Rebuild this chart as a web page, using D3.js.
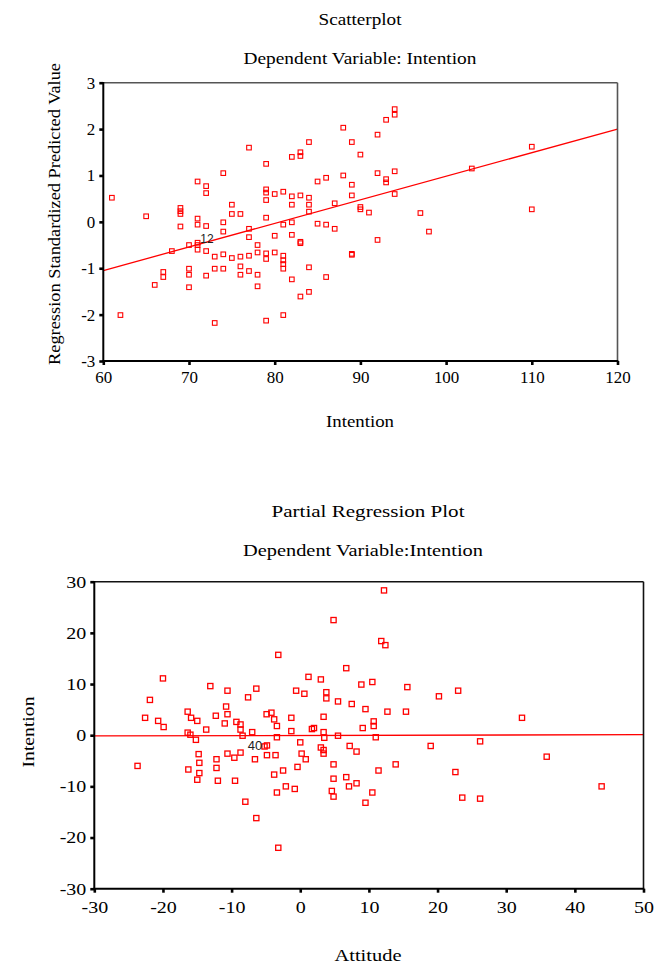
<!DOCTYPE html>
<html><head><meta charset="utf-8">
<script src="https://cdn.jsdelivr.net/npm/d3@7"></script>
<style>body{margin:0;background:#fff}</style>
</head><body>
<svg id="c" width="656" height="967"></svg>
<script>
// ---------- DATA: Scatterplot (Intention vs Regression Standardized Predicted Value)
const topX = [61,62,65,66,67,67,68,69,69,69,69,70,70,70,70,71,71,71,71,71,71,72,72,72,72,72,73,73,73,74,74,74,74,74,75,75,75,76,76,76,76,77,77,77,77,77,78,78,78,78,79,79,79,79,79,79,79,79,80,80,80,81,81,81,81,81,81,81,82,82,82,82,82,82,83,83,83,83,83,83,84,84,84,84,84,84,85,85,86,86,86,87,87,88,88,89,89,89,89,89,90,90,90,91,92,92,92,93,93,93,94,94,94,94,97,98,103,110,110];
const topY = [0.52,-2.01,0.12,-1.36,-1.08,-1.19,-0.63,0.30,0.23,0.17,-0.10,-0.50,-1.01,-1.14,-1.41,0.87,0.07,-0.06,-0.45,-0.50,-0.60,0.77,0.62,-0.09,-0.63,-1.16,-0.75,-1.01,-2.18,1.05,-0.01,-0.21,-0.70,-1.01,0.37,0.17,-0.78,0.17,-0.75,-0.96,-1.14,1.60,-0.15,-0.33,-0.73,-1.06,-0.50,-0.66,-1.14,-1.39,1.25,0.70,0.63,0.47,0.09,-0.68,-0.80,-2.13,0.60,-0.30,-0.66,0.65,-0.06,-0.73,-0.83,-0.91,-1.01,-2.01,1.40,0.55,0.37,-0.01,-0.28,-1.24,1.50,1.42,0.57,-0.43,-0.46,-1.61,1.72,0.52,0.37,0.22,-0.98,-1.51,0.87,-0.04,0.95,-0.06,-1.19,0.40,-0.15,2.03,1.00,1.72,0.80,0.57,-0.69,-0.71,1.45,0.32,0.27,0.20,1.88,1.05,-0.39,2.20,0.92,0.85,2.43,2.31,1.09,0.60,0.19,-0.21,1.15,1.62,0.27];
const topFit = [[60, -1.05], [120, 2.0]];
const topXTicks = [60,70,80,90,100,110,120];
const topYTicks = [-3,-2,-1,0,1,2,3];
const topCaseLabel = {x: 72.1, y: -0.36, text: "12"};

// ---------- DATA: Partial Regression Plot (Attitude vs Intention)
const botX = [-20.0,-21.9,-22.6,-20.7,-19.9,-23.7,-16.4,-15.9,-15.0,-16.4,-16.0,-15.2,-14.8,-14.7,-16.3,-14.7,-15.0,
 -13.1,-10.6,-6.4,-7.6,-3.2,4.85,6.7,1.2,3.0,-0.6,0.6,3.8,3.8,5.5,7.5,-10.8,-10.6,-12.3,-13.7,-11.0,-9.3,-8.7,-8.7,-8.4,-7.0,
 -4.9,-4.2,-3.8,-3.4,-3.4,-1.3,-1.3,-4.85,-5.2,0.0,2.0,1.7,3.4,3.5,5.5,7.2,-12.2,-12.2,-12.0,-10.6,-9.6,-8.7,-9.5,-6.6,
 -4.85,-3.6,-3.8,-2.5,-3.4,-2.1,-0.8,-0.4,0.2,0.8,-8.0,-6.4,-3.2,3.0,3.4,3.4,4.85,4.85,4.6,4.85,6.7,7.1,3.4,
 12.2,11.8,12.4,8.9,10.5,15.6,20.2,23.0,9.5,12.7,15.4,10.7,10.7,9.1,11.0,8.2,19.0,26.2,13.9,11.4,22.6,8.2,10.5,9.5,23.6,26.2,
 32.3,35.9,43.9];
const botY = [11.1,6.9,3.4,2.8,1.6,-6.0,4.6,3.4,2.8,0.5,0.1,-0.9,-3.7,-5.4,-6.7,-7.4,-8.7,
 9.6,8.7,9.1,7.4,15.7,22.5,13.1,11.4,10.9,8.7,8.1,8.4,7.2,6.6,6.1,5.6,4.1,3.8,1.1,2.3,2.6,2.1,1.1,-0.1,0.6,
 4.1,4.4,3.1,1.8,-0.4,3.4,0.8,-2.0,-2.2,-1.4,1.4,1.2,0.6,-0.5,-0.1,-2.1,-4.7,-6.4,-8.9,-3.6,-4.4,-3.4,-8.9,-4.7,
 -3.9,-3.9,-7.7,-6.9,-11.2,-10.0,-10.5,-6.2,-3.6,-4.7,-13.0,-16.2,-22.0,-2.4,-2.9,-3.6,-5.7,-8.5,-10.9,-12.0,-8.2,-10.0,3.6,
 28.3,18.4,17.6,9.9,10.4,9.4,7.6,8.7,5.1,4.6,4.6,2.7,1.8,1.4,-0.4,-3.2,-2.1,-1.2,-5.7,-6.9,-7.2,-9.4,-11.2,-13.2,-12.2,-12.4,
 3.4,-4.2,-10.0];
const botFit = [[-30, -0.15], [50, 0.1]];
const botXTicks = [-30,-20,-10,0,10,20,30,40,50];
const botYTicks = [-30,-20,-10,0,10,20,30];
const botCaseLabel = {x: -6.6, y: -1.95, text: "40"};

// ---------- DRAWING
const svg = d3.select("#c");
svg.append("rect").attr("width",656).attr("height",967).attr("fill","#fff");
const SERIF = "'Liberation Serif','Times New Roman',serif";
const SANS = "'Liberation Sans',Arial,sans-serif";

function label(str, tx, ty, o) {
  const t = svg.append("text")
    .attr("transform", `translate(${tx},${ty})` + (o.rotate ? " rotate(-90)" : ""))
    .attr("text-anchor", "middle")
    .style("font-family", SERIF).style("font-size", o.size + "px").attr("fill", "#000")
    .text(str);
  if (o.len) t.attr("textLength", o.len).attr("lengthAdjust", "spacingAndGlyphs");
  return t;
}

function panel(c) {
  const x = d3.scaleLinear().domain(c.xDomain).range([c.left, c.right]);
  const y = d3.scaleLinear().domain(c.yDomain).range([c.bottom, c.top]);
  const g = svg.append("g");

  // axes (tick marks + labels)
  const ax = g.append("g").attr("transform", `translate(0,${c.bottom})`)
    .call(d3.axisBottom(x).tickValues(c.xTicks).tickSize(4).tickSizeOuter(0).tickFormat(d => String(d)));
  const ay = g.append("g").attr("transform", `translate(${c.left},0)`)
    .call(d3.axisLeft(y).tickValues(c.yTicks).tickSize(4).tickSizeOuter(0).tickFormat(d => String(d)));
  [ax, ay].forEach(a => {
    a.select(".domain").remove();
    a.selectAll(".tick line").attr("stroke", "#000").attr("stroke-width", 2.6);
    a.selectAll(".tick text").attr("fill", "#000")
      .style("font-family", SERIF).style("font-size", c.tickSize + "px");
  });
  ax.selectAll(".tick text").attr("y", null).attr("dy", null)
    .attr("text-anchor", "middle")
    .attr("transform", `translate(0,${c.xTickBase}) scale(${c.sx},1)`);
  ay.selectAll(".tick text").attr("x", null).attr("dy", "0.34em")
    .attr("text-anchor", "end")
    .attr("transform", `translate(-8,0) scale(${c.sx},1)`);

  // clip
  const id = "clip" + c.id;
  svg.append("clipPath").attr("id", id).append("rect")
    .attr("x", c.left).attr("y", c.top).attr("width", c.right - c.left).attr("height", c.bottom - c.top);

  // fit line
  g.append("line").attr("clip-path", `url(#${id})`)
    .attr("x1", x(c.fit[0][0])).attr("y1", y(c.fit[0][1]))
    .attr("x2", x(c.fit[1][0])).attr("y2", y(c.fit[1][1]))
    .attr("stroke", "#ff0000").attr("stroke-width", 1.3);

  // points
  g.append("g").selectAll("rect").data(d3.zip(c.xs, c.ys)).join("rect")
    .attr("x", d => x(d[0]) - c.ms / 2).attr("y", d => y(d[1]) - c.ms / 2)
    .attr("width", c.ms).attr("height", c.ms)
    .attr("fill", "none").attr("stroke", "#ff0000").attr("stroke-width", c.msw);

  // case label
  g.append("text").attr("x", x(c.caseLabel.x)).attr("y", y(c.caseLabel.y))
    .attr("text-anchor", "middle").attr("dy", "0.35em")
    .style("font-family", SANS).style("font-size", c.caseSize + "px").attr("fill", "#222")
    .text(c.caseLabel.text);

  // frame
  g.append("line").attr("x1", c.left).attr("x2", c.right).attr("y1", c.top).attr("y2", c.top)
    .attr("stroke", c.frameTop).attr("stroke-width", 1.6);
  g.append("line").attr("x1", c.right).attr("x2", c.right).attr("y1", c.top).attr("y2", c.bottom)
    .attr("stroke", c.frameTop).attr("stroke-width", 1.6);
  g.append("line").attr("x1", c.left).attr("x2", c.left).attr("y1", c.top - 0.8).attr("y2", c.bottom + 1)
    .attr("stroke", "#000").attr("stroke-width", 2);
  g.append("line").attr("x1", c.left - 1).attr("x2", c.right + 0.8).attr("y1", c.bottom).attr("y2", c.bottom)
    .attr("stroke", "#000").attr("stroke-width", 2);
}

// Top chart
panel({id: "t", xs: topX, ys: topY, fit: topFit, xDomain: [60,120], yDomain: [-3,3],
  left: 103.3, right: 617.5, top: 82.7, bottom: 361,
  xTicks: topXTicks, yTicks: topYTicks, tickSize: 16, sx: 1.06, xTickBase: 22,
  ms: 4.6, msw: 1.1, caseLabel: topCaseLabel, caseSize: 12, frameTop: "#555"});
label("Scatterplot", 360, 25, {size: 17, len: 83});
label("Dependent Variable: Intention", 360, 64, {size: 17, len: 233});
label("Intention", 360, 427, {size: 17, len: 68});
label("Regression Standardized Predicted Value", 60, 214, {size: 17, len: 302, rotate: true});

// Bottom chart
panel({id: "b", xs: botX, ys: botY, fit: botFit, xDomain: [-30,50], yDomain: [-30,30],
  left: 94.3, right: 643.5, top: 581.7, bottom: 888.7,
  xTicks: botXTicks, yTicks: botYTicks, tickSize: 16, sx: 1.25, xTickBase: 24,
  ms: 5.2, msw: 1.3, caseLabel: botCaseLabel, caseSize: 13, frameTop: "#111"});
label("Partial Regression Plot", 368, 517, {size: 17, len: 193});
label("Dependent Variable:Intention", 363, 556, {size: 17, len: 240});
label("Attitude", 368, 961, {size: 17, len: 67});
label("Intention", 34, 732, {size: 17, len: 71, rotate: true});
</script>
</body></html>
